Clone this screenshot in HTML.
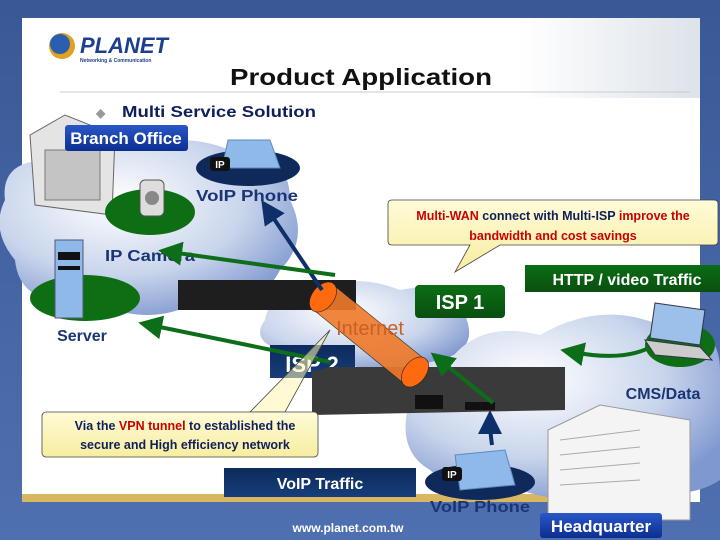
<!DOCTYPE html>
<html><head><meta charset="utf-8"><style>
body{margin:0;width:720px;height:540px;overflow:hidden;background:#3b5a98}
svg{display:block}
text{font-family:"Liberation Sans",sans-serif;font-weight:bold}
</style></head><body>
<svg width="720" height="540" viewBox="0 0 720 540">
<defs>
<linearGradient id="bg" x1="0" y1="0" x2="0" y2="1"><stop offset="0" stop-color="#3a5896"/><stop offset="1" stop-color="#4f70b0"/></linearGradient>
<radialGradient id="cloud" cx="0.4" cy="0.35" r="0.7"><stop offset="0" stop-color="#ffffff"/><stop offset="0.6" stop-color="#c9d5ec"/><stop offset="1" stop-color="#7f98cf"/></radialGradient>
<linearGradient id="navy" x1="0" y1="0" x2="0" y2="1"><stop offset="0" stop-color="#0d2a5c"/><stop offset="1" stop-color="#163d7a"/></linearGradient>
<linearGradient id="green" x1="0" y1="0" x2="0" y2="1"><stop offset="0" stop-color="#0b6e14"/><stop offset="1" stop-color="#0a4f10"/></linearGradient>
<linearGradient id="yel" x1="0" y1="0" x2="0" y2="1"><stop offset="0" stop-color="#fffbd8"/><stop offset="1" stop-color="#f7eda0"/></linearGradient>
<linearGradient id="blu" x1="0" y1="0" x2="0" y2="1"><stop offset="0" stop-color="#2a57c8"/><stop offset="1" stop-color="#0c2e90"/></linearGradient>
<linearGradient id="tr" x1="0" y1="0" x2="1" y2="0"><stop offset="0" stop-color="#fff"/><stop offset="1" stop-color="#dde3ea"/></linearGradient>
<marker id="ag" markerWidth="6" markerHeight="6" refX="3" refY="3" orient="auto"><path d="M0,0L6,3L0,6z" fill="#0d6e1a"/></marker>
<marker id="an" markerWidth="6" markerHeight="6" refX="3" refY="3" orient="auto"><path d="M0,0L6,3L0,6z" fill="#0d2f6a"/></marker>
</defs>
<rect width="720" height="540" fill="url(#bg)"/>
<rect x="22" y="18" width="678" height="484" fill="#fff"/>
<rect x="520" y="18" width="180" height="80" fill="url(#tr)"/>
<rect x="22" y="494" width="540" height="8" fill="#d9b660"/>
<!-- logo -->
<circle cx="62" cy="46" r="13" fill="#e0a020"/><circle cx="60" cy="44" r="10" fill="#2a5fb0"/>
<text x="80" y="53" font-size="22" fill="#1d3f8f" font-style="italic">PLANET</text>
<text x="80" y="62" font-size="5" fill="#1d3f8f">Networking &amp; Communication</text>
<text x="361" y="85" font-size="23" fill="#111" text-anchor="middle" textLength="262" lengthAdjust="spacingAndGlyphs">Product Application</text>
<line x1="60" y1="92" x2="690" y2="92" stroke="#ccc" stroke-width="1"/>
<text x="96" y="117" font-size="12" fill="#999">◆</text>
<text x="122" y="117" font-size="16" fill="#0f1f5a" textLength="194" lengthAdjust="spacingAndGlyphs">Multi Service Solution</text>
<!-- branch cloud -->
<path d="M5,200 Q0,160 50,160 Q80,130 130,150 Q180,130 230,150 Q290,150 290,200 Q310,240 280,270 Q260,310 200,300 Q150,330 90,300 Q20,310 15,260 Q-10,230 5,200z" fill="url(#cloud)"/>
<!-- building -->
<polygon points="30,135 65,115 115,135 112,215 35,205" fill="#e4e4e4" stroke="#666"/>
<rect x="45" y="150" width="55" height="50" fill="#c4c4c4" stroke="#777"/>
<rect x="65" y="125" width="123" height="26" rx="3" fill="url(#blu)"/>
<text x="126" y="144" font-size="17" fill="#fff" text-anchor="middle">Branch Office</text>
<ellipse cx="248" cy="168" rx="52" ry="18" fill="#0f2a5a"/>
<polygon points="228,140 270,140 280,168 222,168" fill="#8fb9e8" stroke="#5a8ac0"/>
<rect x="210" y="157" width="20" height="14" rx="3" fill="#111"/><text x="220" y="168" font-size="10" fill="#fff" text-anchor="middle">IP</text>
<text x="247" y="201" font-size="16" fill="#1a3575" text-anchor="middle" textLength="102" lengthAdjust="spacingAndGlyphs">VoIP Phone</text>
<ellipse cx="150" cy="212" rx="45" ry="23" fill="#0d6e14"/>
<rect x="140" y="180" width="24" height="36" rx="5" fill="#ddd" stroke="#555"/><circle cx="152" cy="198" r="7" fill="#888"/>
<text x="150" y="261" font-size="16" fill="#1a3575" text-anchor="middle" textLength="90" lengthAdjust="spacingAndGlyphs">IP Camera</text>
<!-- server -->
<ellipse cx="85" cy="298" rx="55" ry="23" fill="#0d6e14"/>
<rect x="55" y="240" width="28" height="78" fill="#8fb9e8" stroke="#557"/>
<rect x="58" y="252" width="22" height="8" fill="#111"/><rect x="58" y="266" width="22" height="4" fill="#111"/>
<text x="82" y="341" font-size="16" fill="#1a3575" text-anchor="middle">Server</text>
<!-- internet cloud -->
<path d="M265,320 Q270,290 310,295 Q350,270 400,290 Q450,280 465,315 Q480,350 440,360 Q400,380 350,365 Q300,375 280,350 Q250,340 265,320z" fill="url(#cloud)"/>
<rect x="178" y="280" width="178" height="30" fill="#1e1e1e"/>
<rect x="415" y="285" width="90" height="33" rx="4" fill="url(#green)"/>
<text x="460" y="309" font-size="20" fill="#fff" text-anchor="middle">ISP 1</text>
<rect x="270" y="345" width="85" height="33" fill="url(#navy)"/>
<text x="312" y="372" font-size="22" fill="#fff" text-anchor="middle">ISP 2</text>
<!-- HQ cloud -->
<path d="M410,400 Q400,360 450,360 Q480,320 540,335 Q600,300 660,325 Q720,320 720,370 L720,480 Q690,500 640,490 Q580,510 520,490 Q460,500 430,470 Q395,450 410,400z" fill="url(#cloud)"/>
<!-- switch -->
<polygon points="312,372 330,367 565,367 565,410 312,415" fill="#3a3a3a"/>
<rect x="415" y="395" width="28" height="14" fill="#111"/><rect x="465" y="402" width="30" height="8" fill="#111"/>
<!-- cylinder -->
<polygon points="310,307 336,287 428,362 402,382" fill="#f07a2a" stroke="#222" stroke-width="0.6" opacity="0.9"/>
<ellipse cx="323" cy="297" rx="11" ry="17" transform="rotate(38 323 297)" fill="#ff6a10" stroke="#222" stroke-width="0.6"/>
<ellipse cx="415" cy="372" rx="11" ry="17" transform="rotate(38 415 372)" fill="#ff6a10" stroke="#222" stroke-width="0.6"/>
<text x="370" y="335" font-size="20" fill="#c8602a" text-anchor="middle" style="font-weight:normal">Internet</text>
<!-- arrows -->
<line x1="322" y1="290" x2="268" y2="210" stroke="#0d2f6a" stroke-width="4" marker-end="url(#an)"/>
<line x1="335" y1="275" x2="170" y2="252" stroke="#0d6e1a" stroke-width="4" marker-end="url(#ag)"/>
<line x1="330" y1="362" x2="150" y2="325" stroke="#0d6e1a" stroke-width="4" marker-end="url(#ag)"/>
<line x1="493" y1="403" x2="440" y2="360" stroke="#0d6e1a" stroke-width="4" marker-end="url(#ag)"/>
<path d="M665,335 Q640,365 572,352" fill="none" stroke="#0d6e1a" stroke-width="4" marker-end="url(#ag)"/>
<path d="M492,445 Q490,430 490,422" fill="none" stroke="#0d2f6a" stroke-width="4" marker-end="url(#an)"/>
<!-- callouts -->
<path d="M392,200 L714,200 Q718,200 718,204 L718,241 Q718,245 714,245 L500,245 L455,272 L470,245 L392,245 Q388,245 388,241 L388,204 Q388,200 392,200z" fill="url(#yel)" stroke="#444" stroke-width="0.8"/>
<text x="553" y="220" font-size="12.5" text-anchor="middle"><tspan fill="#c00">Multi-WAN</tspan><tspan fill="#0f1f5a"> connect with Multi-ISP </tspan><tspan fill="#c00">improve  the</tspan></text>
<text x="553" y="240" font-size="12.5" text-anchor="middle" fill="#c00">bandwidth and cost savings</text>
<path d="M250,412 L330,330 L285,412z" fill="#fff6b0" fill-opacity="0.55" stroke="#444" stroke-width="0.8"/>
<rect x="42" y="412" width="276" height="45" rx="4" fill="url(#yel)" stroke="#444" stroke-width="0.8"/>
<text x="185" y="430" font-size="12.5" text-anchor="middle"><tspan fill="#0f1f5a">Via the </tspan><tspan fill="#c00">VPN tunnel</tspan><tspan fill="#0f1f5a"> to established the</tspan></text>
<text x="185" y="449" font-size="12.5" text-anchor="middle" fill="#0f1f5a">secure and High efficiency network</text>
<rect x="525" y="265" width="195" height="27" fill="url(#green)"/>
<text x="627" y="285" font-size="16" fill="#fff" text-anchor="middle">HTTP / video Traffic</text>
<!-- laptop -->
<ellipse cx="680" cy="345" rx="35" ry="22" fill="#0d6e14"/>
<polygon points="655,303 705,310 700,345 650,338" fill="#9cc0ea" stroke="#334"/>
<polygon points="645,340 700,347 712,360 655,355" fill="#ccc" stroke="#334"/>
<text x="663" y="399" font-size="16" fill="#1a3575" text-anchor="middle">CMS/Data</text>
<!-- HQ building -->
<polygon points="548,430 600,405 690,420 690,520 548,520" fill="#f4f4f4" stroke="#999"/>
<g stroke="#aaa"><line x1="560" y1="440" x2="640" y2="430"/><line x1="560" y1="455" x2="640" y2="447"/><line x1="560" y1="470" x2="640" y2="463"/><line x1="560" y1="485" x2="640" y2="480"/></g>
<rect x="540" y="513" width="122" height="25" rx="3" fill="url(#blu)"/>
<text x="601" y="532" font-size="17" fill="#fff" text-anchor="middle">Headquarter</text>
<!-- bottom phone -->
<ellipse cx="480" cy="482" rx="55" ry="18" fill="#0f2a5a"/>
<polygon points="455,455 505,450 515,485 460,490" fill="#8fb9e8" stroke="#5a8ac0"/>
<rect x="442" y="467" width="20" height="14" rx="3" fill="#111"/><text x="452" y="478" font-size="10" fill="#fff" text-anchor="middle">IP</text>
<text x="480" y="512" font-size="16" fill="#1a3575" text-anchor="middle" textLength="100" lengthAdjust="spacingAndGlyphs">VoIP Phone</text>
<rect x="224" y="468" width="192" height="29" fill="url(#navy)"/>
<text x="320" y="489" font-size="16" fill="#fff" text-anchor="middle">VoIP Traffic</text>
<text x="348" y="532" font-size="12" fill="#fff" text-anchor="middle">www.planet.com.tw</text>
</svg>
</body></html>
